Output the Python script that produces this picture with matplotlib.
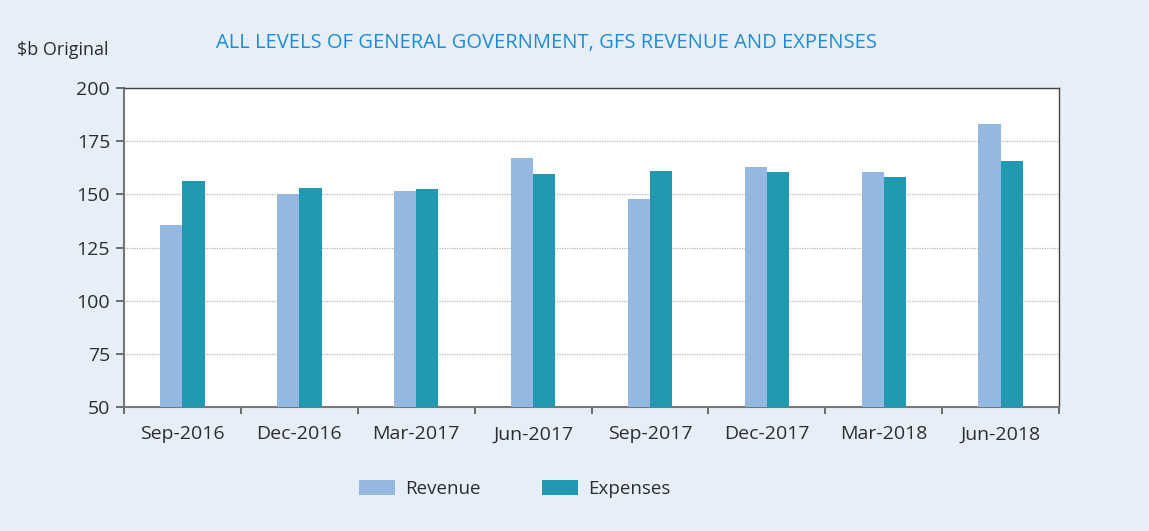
import numpy as np
import matplotlib
matplotlib.use('Agg')
import matplotlib.pyplot as plt
from matplotlib.ticker import FixedLocator

# Данные ($b, оценка по графику)
quarters = ['Sep-2016', 'Dec-2016', 'Mar-2017', 'Jun-2017',
            'Sep-2017', 'Dec-2017', 'Mar-2018', 'Jun-2018']
revenue = [135.5, 150.1, 151.4, 166.9, 148.0, 162.7, 160.3, 183.3]
expenses = [156.1, 152.8, 152.5, 159.4, 160.9, 160.3, 158.4, 165.5]
y_ticks = [50, 75, 100, 125, 150, 175, 200]

BG = '#E6EEF8'
REV_COLOR = '#94B8E0'
EXP_COLOR = '#2199B0'
TEXT = '#2d2d2d'

plt.rcParams['font.family'] = ['Open Sans', 'DejaVu Sans']

fig = plt.figure(figsize=(11.49, 5.31), dpi=100, facecolor=BG)
ax = fig.add_axes([0.1079, 0.2330, 0.8138, 0.6013])
ax.set_facecolor('white')

x = np.arange(len(quarters))
w = 0.19
ax.bar(x - w / 2, revenue, width=w, color=REV_COLOR, label='Revenue', zorder=3)
ax.bar(x + w / 2, expenses, width=w, color=EXP_COLOR, label='Expenses', zorder=3)

ax.set_xlim(-0.5, len(quarters) - 0.5)
ax.set_ylim(50, 200)
ax.set_yticks(y_ticks)
ax.set_xticks(x)
ax.set_xticklabels(quarters)
ax.xaxis.set_minor_locator(FixedLocator(np.arange(-0.5, len(quarters), 1.0)))
ax.tick_params(axis='x', which='major', length=0, pad=13, labelsize=14, labelcolor=TEXT)
ax.tick_params(axis='x', which='minor', length=5, width=1.2, color='#555555')
ax.tick_params(axis='y', length=6, width=1.2, color='#555555', labelsize=14,
               labelcolor=TEXT, pad=4)

# сетка пунктиром
ax.grid(axis='y', linestyle=(0, (1, 1)), color='#b5b5b5', linewidth=0.9, zorder=0)

for side in ['left', 'bottom']:
    ax.spines[side].set_color('#777777')
    ax.spines[side].set_linewidth(1.5)
for side in ['top', 'right']:
    ax.spines[side].set_color('#444444')
    ax.spines[side].set_linewidth(1.0)

fig.text(0.0148, 0.905, '$b Original', fontsize=13, color=TEXT, va='center', ha='left')
fig.text(0.4756, 0.919, 'ALL LEVELS OF GENERAL GOVERNMENT, GFS REVENUE AND EXPENSES',
         fontsize=14.5, color='#1E8CD4', ha='center', va='center')

fig.legend(loc='center', bbox_to_anchor=(0.448, 0.079), ncol=2, frameon=False,
           fontsize=13.5, labelcolor=TEXT, handlelength=1.92, handleheight=0.8,
           columnspacing=3.3, handletextpad=0.53)

fig.savefig('out.png', dpi=100, facecolor=BG)
